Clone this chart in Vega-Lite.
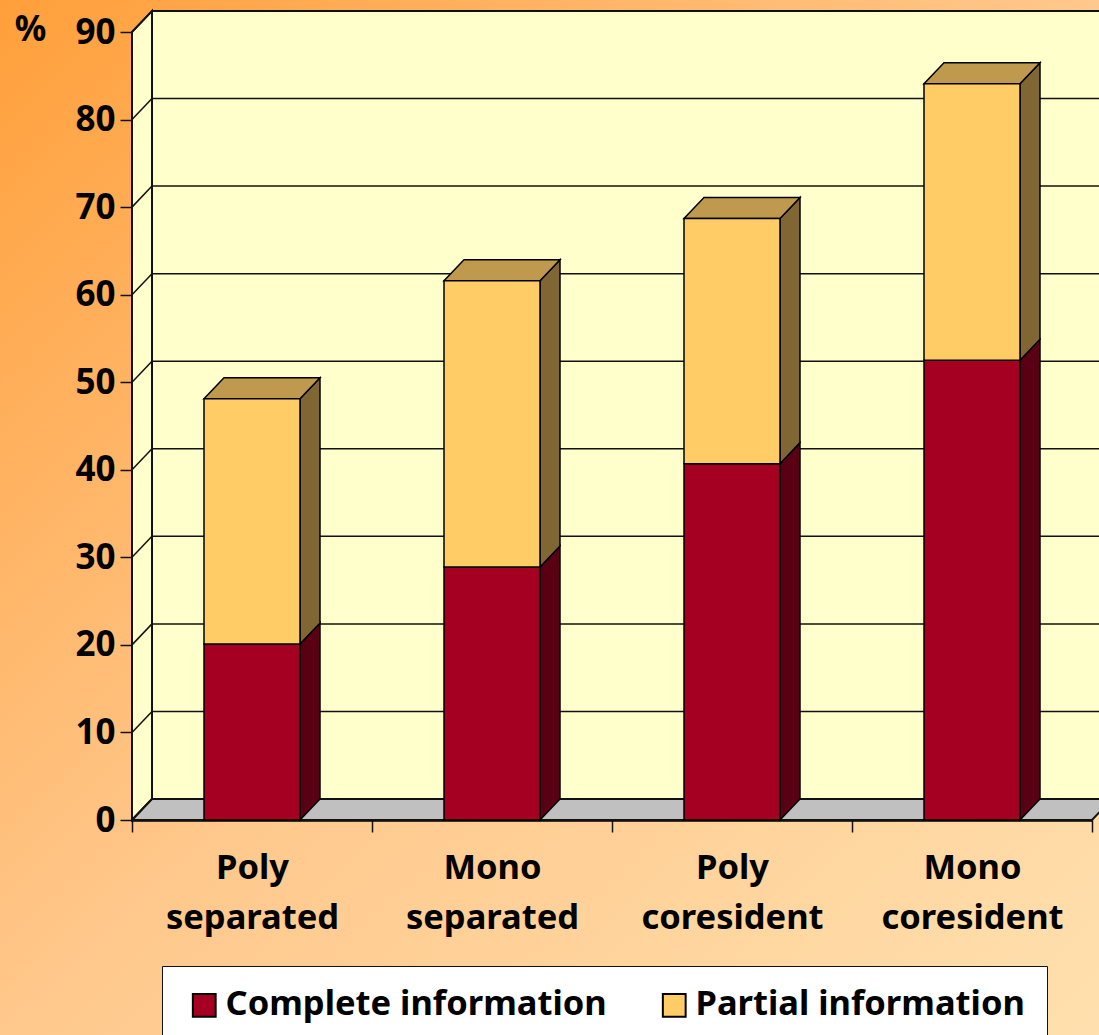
{
"$schema":"https://vega.github.io/schema/vega-lite/v6.json",
"width":1099,"height":1035,"padding":0,"autosize":{"type":"none"},
"background":"#FFC98F",
"view":{"stroke":null,"fill":{"gradient":"linear","x1":0,"y1":0,"x2":1,"y2":1,"stops":[{"offset":0,"color":"#FF9F3A"},{"offset":0.5,"color":"#FFC88C"},{"offset":1,"color":"#FFE0AE"}]}},
"config":{"font":"Noto Sans"},
"datasets":{
"bars":[
{"category":"Poly separated","segment":"Complete information","value":20.1},
{"category":"Poly separated","segment":"Partial information","value":28.0},
{"category":"Mono separated","segment":"Complete information","value":28.9},
{"category":"Mono separated","segment":"Partial information","value":32.7},
{"category":"Poly coresident","segment":"Complete information","value":40.7},
{"category":"Poly coresident","segment":"Partial information","value":28.0},
{"category":"Mono coresident","segment":"Complete information","value":52.5},
{"category":"Mono coresident","segment":"Partial information","value":31.6}],
"ticks":[{"v":0},{"v":10},{"v":20},{"v":30},{"v":40},{"v":50},{"v":60},{"v":70},{"v":80},{"v":90}],
"room":[{"x0":0,"x1":0.0833,"x9":4.1,"xf":4.0833,"y0":0,"yb":2.4,"y9":90,"yt":92.4}]
},
"layer":[
{"data":{"name":"room"},"mark":{"type":"rect","fill":"#FFFFCC","stroke":"#111","strokeWidth":2},
 "encoding":{"x":{"field":"x1","type":"quantitative","scale":{"domain":[0,4],"range":[132,1092],"nice":false,"zero":false},
  "axis":{"values":[0,0.5,1,1.5,2,2.5,3,3.5,4],"title":null,"grid":false,"offset":-215,"domainColor":"#000","domainWidth":2.5,"tickColor":"#111","tickSize":12,"tickWidth":1.5,
   "tickOpacity":{"condition":{"test":"datum.value%1==0","value":1},"value":0},
   "labelExpr":"datum.value%1==0 ? '' : split(['Poly separated','Mono separated','Poly coresident','Mono coresident'][floor(datum.value)],' ')",
   "labelFontSize":34.5,"labelFontWeight":"bold","labelColor":"#000","labelLineHeight":50,"labelPadding":19,"labelBaseline":"top","labelLimit":400,"labelOverlap":false,"labelFlush":false,"labelBound":false}},"x2":{"field":"x9"},
 "y":{"field":"yb","type":"quantitative","scale":{"domain":[0,90],"range":[820,32],"nice":false,"zero":false},
  "axis":{"values":[0,10,20,30,40,50,60,70,80,90],"offset":-132,"grid":false,"domainColor":"#000","domainWidth":3,"tickColor":"#111","tickSize":12,"tickWidth":1.5,"labelFontSize":35,"labelFontWeight":"bold","labelColor":"#000","labelPadding":5,"title":"%","titleFontSize":35,"titleFontWeight":"bold","titleColor":"#000","titleAngle":0,"titleX":-102,"titleY":29,"titleAlign":"center","titleBaseline":"middle"}},"y2":{"field":"yt"}}},
{"data":{"name":"room"},"transform":[{"fold":["x0","x1"],"as":["edge","xpos"]},{"calculate":"datum.edge=='x1'?2.4:0","as":"rise"},{"calculate":"datum.rise","as":"ylow"},{"calculate":"datum.y9+datum.rise","as":"yhigh"}],
 "mark":{"type":"area","fill":"#FFFFCC","stroke":"#111","strokeWidth":2},
 "encoding":{"x":{"field":"xpos","type":"quantitative"},"y":{"field":"ylow","type":"quantitative","stack":null},"y2":{"field":"yhigh"}}},
{"data":{"name":"room"},"transform":[{"fold":["x0","x1"],"as":["edge","xpos"]},{"calculate":"datum.edge=='x1'?2.4:0","as":"rise"},{"calculate":"datum.xpos+4","as":"xend"}],
 "mark":{"type":"area","orient":"horizontal","fill":"#C0C0C0","stroke":"#111","strokeWidth":2},
 "encoding":{"x":{"field":"xpos","type":"quantitative","stack":null},"x2":{"field":"xend"},"y":{"field":"rise","type":"quantitative"}}},
{"data":{"name":"ticks"},"transform":[{"calculate":"datum.v+2.4","as":"vb"},{"calculate":"0","as":"a"},{"calculate":"0.0833","as":"b"},{"calculate":"4.1","as":"c"}],
 "mark":{"type":"rule","color":"#111","strokeWidth":1.5},
 "encoding":{"x":{"field":"b","type":"quantitative"},"x2":{"field":"c"},"y":{"field":"vb","type":"quantitative"}}},
{"data":{"name":"ticks"},"transform":[{"calculate":"datum.v+2.4","as":"vb"},{"calculate":"0","as":"a"},{"calculate":"0.0833","as":"b"}],
 "mark":{"type":"rule","color":"#111","strokeWidth":1.5},
 "encoding":{"x":{"field":"a","type":"quantitative"},"x2":{"field":"b"},"y":{"field":"v","type":"quantitative"},"y2":{"field":"vb"}}},
{"data":{"name":"bars"},"transform":[
 {"stack":"value","groupby":["category"],"sort":[{"field":"segment","order":"ascending"}],"as":["low","high"]},
 {"calculate":"indexof(['Poly separated','Mono separated','Poly coresident','Mono coresident'],datum.category)+0.7","as":"near"},
 {"calculate":"datum.near+0.0833","as":"far"},
 {"fold":["near","far"],"as":["edge","xpos"]},
 {"calculate":"datum.edge=='far'?2.4:0","as":"rise"},
 {"calculate":"datum.low+datum.rise","as":"ylow"},
 {"calculate":"datum.high+datum.rise","as":"yhigh"}],
 "mark":{"type":"area","stroke":"#000","strokeWidth":1.5},
 "encoding":{"x":{"field":"xpos","type":"quantitative"},"y":{"field":"ylow","type":"quantitative","stack":null},"y2":{"field":"yhigh"},"detail":[{"field":"category"},{"field":"segment"}],
 "fill":{"condition":{"test":"datum.segment=='Complete information'","value":"#590014"},"value":"#806633"}}},
{"data":{"name":"bars"},"transform":[
 {"stack":"value","groupby":["category"],"sort":[{"field":"segment","order":"ascending"}],"as":["low","high"]},
 {"filter":"datum.segment=='Partial information'"},
 {"calculate":"indexof(['Poly separated','Mono separated','Poly coresident','Mono coresident'],datum.category)+0.3","as":"near"},
 {"calculate":"datum.near+0.0833","as":"far"},
 {"fold":["near","far"],"as":["edge","xpos"]},
 {"calculate":"datum.xpos+0.4","as":"xend"},
 {"calculate":"datum.high+(datum.edge=='far'?2.4:0)","as":"ytop"}],
 "mark":{"type":"area","orient":"horizontal","fill":"#BF994D","stroke":"#000","strokeWidth":1.5},
 "encoding":{"x":{"field":"xpos","type":"quantitative","stack":null},"x2":{"field":"xend"},"y":{"field":"ytop","type":"quantitative"},"detail":{"field":"category"}}},
{"data":{"name":"bars"},"transform":[
 {"stack":"value","groupby":["category"],"sort":[{"field":"segment","order":"ascending"}],"as":["low","high"]},
 {"calculate":"indexof(['Poly separated','Mono separated','Poly coresident','Mono coresident'],datum.category)+0.3","as":"left"},
 {"calculate":"datum.left+0.4","as":"right"}],
 "mark":{"type":"rect","stroke":"#000","strokeWidth":1.5},
 "encoding":{
 "x":{"field":"left","type":"quantitative"},"x2":{"field":"right"},
 "y":{"field":"low","type":"quantitative"},"y2":{"field":"high"},
 "color":{"field":"segment","type":"nominal","scale":{"domain":["Complete information","Partial information"],"range":["#A50021","#FFCC66"]},
  "legend":{"title":null,"orient":"none","legendX":162,"legendY":966,"direction":"horizontal","columns":2,"fillColor":"#FFF","strokeColor":"#111","padding":22,"symbolType":"square","symbolSize":520,"symbolStrokeColor":"#000","symbolStrokeWidth":2,"symbolOpacity":1,"symbolOffset":3,"labelFontSize":34.5,"labelFontWeight":"bold","labelColor":"#000","labelOffset":4,"columnPadding":47,"labelLimit":500}}}}
]}
